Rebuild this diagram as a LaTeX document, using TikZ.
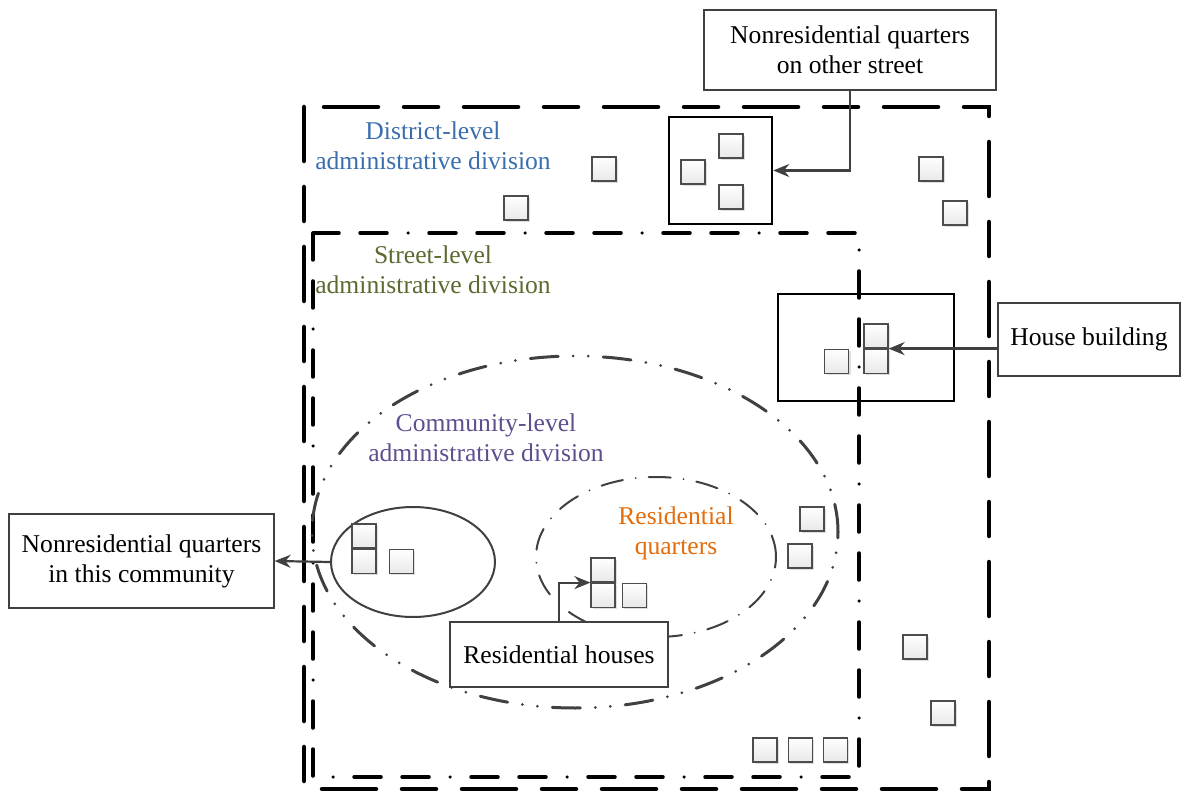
\documentclass[tikz,border=0pt]{standalone}
\usepackage{fontspec}
\setmainfont{Liberation Serif}
\usepackage{xcolor}
\definecolor{distc}{HTML}{3A6FAE}
\definecolor{strc}{HTML}{5A6A30}
\definecolor{comc}{HTML}{5F4F8F}
\definecolor{resc}{HTML}{E46C0A}
\definecolor{linec}{HTML}{404040}
\usepackage{tikz}
\usetikzlibrary{positioning,arrows.meta,shapes.geometric,shadows}

\begin{document}
\begin{tikzpicture}[x=1pt,y=-1pt,font=\fontsize{25.6}{30}\selectfont,
  bldg/.style={draw=gray!60!black,line width=1.2pt,minimum size=24pt,inner sep=0pt,
    top color=white,bottom color=gray!18,drop shadow={shadow xshift=2pt,shadow yshift=-2pt,opacity=0.25}},
  frame/.style={draw=black,line width=2.5pt,inner sep=0pt},
  label/.style={draw=linec,line width=1.2pt,fill=white,align=center,inner sep=0pt},
  region/.style={ellipse,draw=linec,inner sep=0pt},
  arr/.style={draw=linec,line width=2.2pt,-{Stealth[length=16pt,width=13pt]}}]
  \useasboundingbox (0,0) rectangle (1181,791);
  % administrative levels
  \draw[line width=4.5pt,line cap=round,dash pattern=on 54pt off 26pt on 34pt off 26pt] (304,107) rectangle (989,789);
  \draw[line width=3.5pt,line cap=round,dash pattern=on 27pt off 21pt on 27pt off 21pt on 0pt off 21pt] (313,233) rectangle (859,777);
  \node[region,line width=3pt,line cap=round,dash pattern=on 28pt off 15pt on 0pt off 15pt on 0pt off 15pt,
    minimum width=526pt,minimum height=352pt] (com) at (575,532) {};
  \node[region,line width=2pt,line cap=round,dash pattern=on 22pt off 13pt on 0pt off 13pt,
    minimum width=240pt,minimum height=160pt] (resq) at (656,557) {};
  \node[region,line width=2pt,minimum width=164pt,minimum height=110pt] (nonres) at (413,562) {};
  \node[frame,minimum width=103pt,minimum height=107pt] (otherq) at (720.5,170.5) {};
  \node[frame,minimum width=176pt,minimum height=107pt] (housef) at (866,347.5) {};
  % level names
  \node[align=center,text=distc] (dist) at (433,146) {District-level\\administrative division};
  \node[align=center,text=strc] (str) at (433,270) {Street-level\\administrative division};
  \node[align=center,text=comc] (comt) at (486,438) {Community-level\\administrative division};
  \node[align=center,text=resc] (rest) at (676,533) {Residential\\quarters};
  % buildings
  \node[bldg] (o1) at (731,146) {}; \node[bldg] (o2) at (693,172) {}; \node[bldg] (o3) at (731,197) {};
  \node[bldg] (d1) at (604,169) {}; \node[bldg] (d2) at (516,208) {};
  \node[bldg] (d3) at (931,169) {}; \node[bldg] (d4) at (955,213) {};
  \node[bldg] (h1) at (876,336) {}; \node[bldg,below=0pt of h1] (h2) {}; \node[bldg,left=14pt of h2] (h3) {};
  \node[bldg] (n1) at (364,536) {}; \node[bldg,below=0pt of n1] (n2) {}; \node[bldg,right=12pt of n2] (n3) {};
  \node[bldg] (r1) at (603,570) {}; \node[bldg,below=0pt of r1] (r2) {}; \node[bldg,right=6pt of r2] (r3) {};
  \node[bldg] (c1) at (812,519) {}; \node[bldg] (c2) at (800,556) {};
  \node[bldg] (s1) at (915,647) {}; \node[bldg] (s2) at (943,713) {};
  \node[bldg] (s3) at (765,750) {}; \node[bldg,right=10pt of s3] (s4) {}; \node[bldg,right=10pt of s4] (s5) {};
  % callouts
  \node[label,minimum width=292pt,minimum height=80pt] (otherbox) at (850,50) {Nonresidential quarters\\on other street};
  \node[label,minimum width=182pt,minimum height=73pt] (housebox) at (1089,339.5) {House building};
  \node[label,minimum width=265pt,minimum height=94pt] (combox) at (141.5,561) {Nonresidential quarters\\in this community};
  \node[label,minimum width=218pt,minimum height=65pt] (rhbox) at (559,654.5) {Residential houses};
  \draw[arr] (otherbox.south) |- (otherq.east);
  \draw[arr] (housebox.west |- h2.north east) -- (h2.north east);
  \draw[arr] (nonres.west) -- (combox.east);
  \draw[arr] (rhbox.north) |- (r2.north west);
\end{tikzpicture}
\end{document}
